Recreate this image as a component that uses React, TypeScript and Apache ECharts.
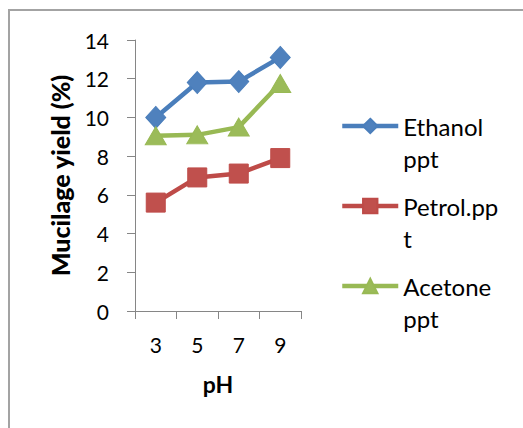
import React, { useEffect, useRef } from "react";
import * as echarts from "echarts";

const categories = ["3", "5", "7", "9"];
const seriesNames = ["Ethanol\nppt", "Petrol.pp\nt", "Acetone\nppt"];
const ethanol = [10.0, 11.8, 11.85, 13.1];
const petrol = [5.6, 6.9, 7.1, 7.9];
const acetone = [9.05, 9.1, 9.5, 11.75];
const yTicks = { min: 0, max: 14, interval: 2 };

const FONT = "Lato";

export default function App() {
  const ref = useRef<HTMLDivElement>(null);
  useEffect(() => {
    if (!ref.current) return;
    const chart = echarts.init(ref.current, null, { renderer: "svg" });
    const mk = (name: string, data: number[], line: string, fill: string, symbol: string, size: any) => ({
      name,
      type: "line",
      data,
      symbol,
      symbolSize: size,
      lineStyle: { color: line, width: 4.5 },
      itemStyle: { color: fill, borderColor: line, borderWidth: 1 },
    });
    chart.setOption({
      animation: false,
      textStyle: { fontFamily: FONT },
      graphic: [
        {
          type: "rect",
          shape: { x: 9, y: 10, width: 700, height: 700 },
          style: { fill: "none", stroke: "#a3a3a3", lineWidth: 2 },
          silent: true,
        },
      ],
      grid: { left: 135, top: 40, width: 166, height: 271 },
      xAxis: {
        type: "category",
        data: categories,
        boundaryGap: true,
        name: "pH",
        nameLocation: "middle",
        nameGap: 61,
        nameTextStyle: { fontFamily: FONT, fontWeight: "bold", fontSize: 23, color: "#000" },
        axisLine: { lineStyle: { color: "#868686", width: 1 } },
        axisTick: { show: true, length: 8, lineStyle: { color: "#868686" } },
        axisLabel: { fontFamily: FONT, fontSize: 21, color: "#000", margin: 23 },
        splitLine: { show: false },
      },
      yAxis: {
        type: "value",
        min: yTicks.min,
        max: yTicks.max,
        interval: yTicks.interval,
        name: "Mucilage yield (%)",
        nameLocation: "middle",
        nameGap: 63,
        nameTextStyle: { fontFamily: FONT, fontWeight: 900, fontSize: 25, color: "#000" },
        axisLine: { show: true, lineStyle: { color: "#868686", width: 1 } },
        axisTick: { show: true, length: 8, lineStyle: { color: "#868686" } },
        axisLabel: { fontFamily: FONT, fontSize: 21, color: "#000", margin: 26 },
        splitLine: { show: false },
      },
      legend: {
        orient: "vertical",
        left: 340,
        top: 78,
        padding: 0,
        itemWidth: 56,
        itemHeight: 18,
        itemGap: -16,
        data: seriesNames,
        formatter: (n: string) => "\n" + n,
        lineStyle: { width: 4.5 },
        textStyle: {
          fontFamily: FONT,
          fontSize: 24,
          lineHeight: 32,
          color: "#000",
        },
      },
      series: [
        mk(seriesNames[0], ethanol, "#4A7EBB", "#4F81BD", "diamond", [20, 22]),
        mk(seriesNames[1], petrol, "#BE4B48", "#C0504D", "rect", 19),
        mk(seriesNames[2], acetone, "#98B954", "#9BBB59", "triangle", [21, 18]),
      ],
    });
    return () => chart.dispose();
  }, []);
  return (
    <div
      ref={ref}
      style={{ position: "fixed", left: 0, top: 0, width: 523, height: 428, background: "#fff" }}
    />
  );
}
